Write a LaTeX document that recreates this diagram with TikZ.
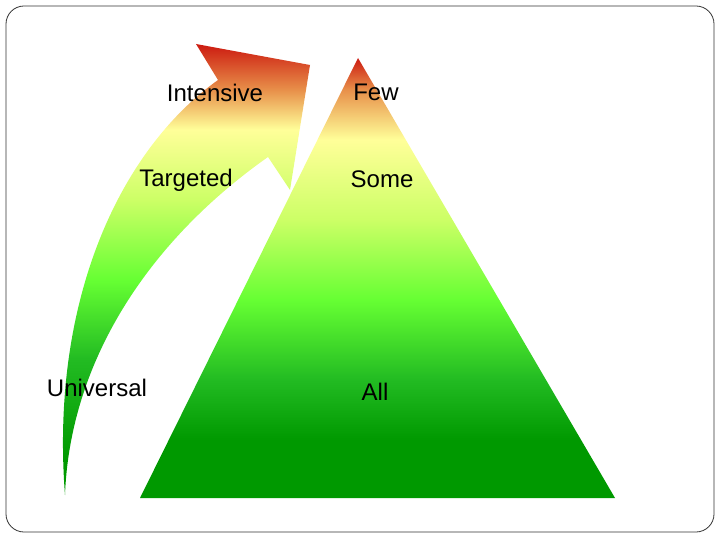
\documentclass[tikz,border=0pt]{standalone}
\usepackage{fontspec}
\setmainfont{Liberation Sans}
\definecolor{cred}{HTML}{CC1A10}
\definecolor{corange}{HTML}{E8904A}
\definecolor{cyellow}{HTML}{FFFF99}
\definecolor{clight}{HTML}{CCFF66}
\definecolor{cbright}{HTML}{66FF33}
\definecolor{cgreen}{HTML}{22BB22}
\definecolor{cdark}{HTML}{009900}
\pgfdeclareverticalshading{pyr}{100bp}{color(0bp)=(cdark); color(31.6bp)=(cdark); color(38.4bp)=(cgreen); color(47.5bp)=(cbright); color(56.6bp)=(clight); color(65.7bp)=(cyellow); color(71.4bp)=(corange); color(75bp)=(cred); color(100bp)=(cred)}
\pgfdeclareverticalshading{arr}{100bp}{color(0bp)=(cdark); color(28.9bp)=(cdark); color(40bp)=(cgreen); color(48.8bp)=(cbright); color(57.7bp)=(clight); color(65.5bp)=(cyellow); color(69.9bp)=(corange); color(75bp)=(cred); color(100bp)=(cred)}
\tikzset{lbl/.style={font=\fontsize{24}{28}\selectfont, inner sep=0pt}}
\begin{document}
\begin{tikzpicture}[x=1pt,y=-1pt]
\useasboundingbox (0,0) rectangle (720,540);
\draw[line width=0.8pt, rounded corners=18pt, draw=black!80] (6,6) rectangle (714,532);
\shade[shading=pyr] (358,58) -- (615,498) -- (140,498) -- cycle;
\shade[shading=arr] (65,495) .. controls (50,300) and (120,150) .. (218,80)
  -- (196,44) -- (310,65) -- (290,190) -- (268,157)
  .. controls (150,240) and (70,360) .. (65,495) -- cycle;
\node[lbl] (intensive) at (215,93) {Intensive};
\node[lbl] (targeted) at (186,180) {Targeted};
\node[lbl] (universal) at (97,388) {Universal};
\node[lbl] (few) at (376,92) {Few};
\node[lbl] (some) at (382,179) {Some};
\node[lbl] (all) at (375,392) {All};
\end{tikzpicture}
\end{document}
